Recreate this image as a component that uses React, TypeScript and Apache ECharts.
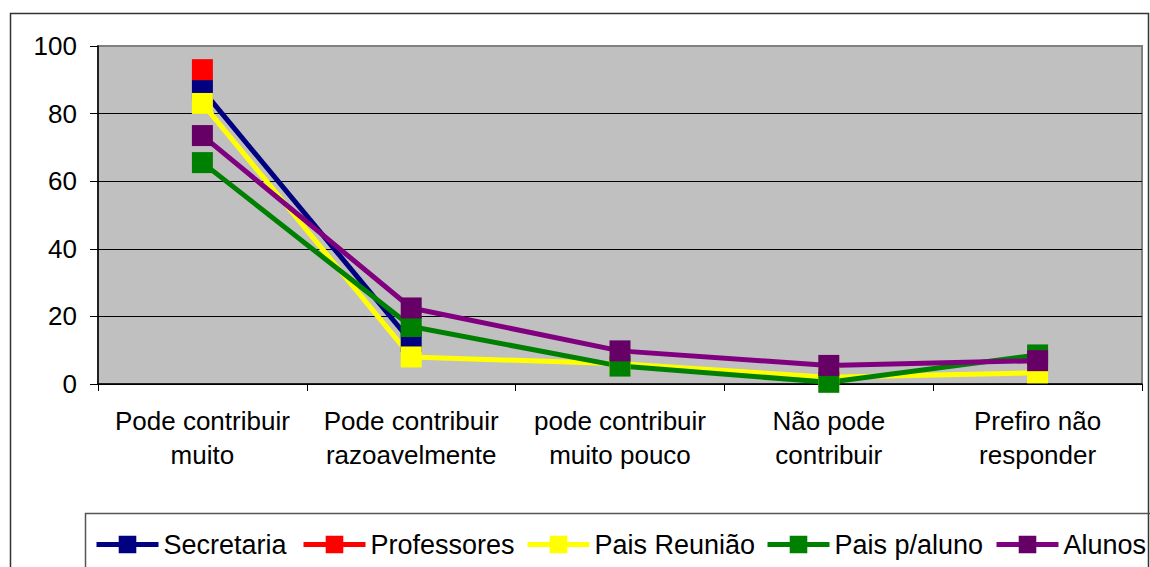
import React, { useEffect, useRef } from "react";
import * as echarts from "echarts";

const categories = [
  "Pode contribuir\nmuito",
  "Pode contribuir\nrazoavelmente",
  "pode contribuir\nmuito pouco",
  "Não pode\ncontribuir",
  "Prefiro não\nresponder",
];

const secretaria = [87, 12.5, null, null, null];
const professores = [93, null, null, null, null];
const paisReuniao = [83, 8, 6, 2, 3.3];
const paisPorAluno = [65.5, 17, 5.3, 0.5, 8.6];
const alunos = [73.5, 22.5, 9.8, 5.5, 6.9];

const seriesDefs = [
  { name: "Secretaria", data: secretaria, line: "#000080", marker: "#000080" },
  { name: "Professores", data: professores, line: "#FF0000", marker: "#FF0000" },
  { name: "Pais Reunião", data: paisReuniao, line: "#FFFF00", marker: "#FFFF00" },
  { name: "Pais p/aluno", data: paisPorAluno, line: "#008000", marker: "#008000" },
  { name: "Alunos", data: alunos, line: "#800080", marker: "#660066" },
];

const legendLefts = [94, 301, 525, 765, 994];

export default function App() {
  const ref = useRef<HTMLDivElement>(null);

  useEffect(() => {
    if (!ref.current) return;
    const chart = echarts.init(ref.current, undefined, { renderer: "svg" });
    const font = "'Liberation Sans', Arial, sans-serif";
    chart.setOption({
      animation: false,
      backgroundColor: "#ffffff",
      textStyle: { fontFamily: font },
      graphic: [
        {
          type: "rect",
          shape: { x: 10.5, y: 13.5, width: 1138, height: 600 },
          style: { fill: "none", stroke: "#333333", lineWidth: 1.5 },
          z: -10,
          silent: true,
        },
        {
          type: "rect",
          shape: { x: 85.5, y: 513.5, width: 1100, height: 100 },
          style: { fill: "none", stroke: "#555555", lineWidth: 1.5 },
          z: -10,
          silent: true,
        },
      ],
      grid: {
        left: 98,
        top: 46,
        right: 8,
        bottom: 183,
        show: true,
        backgroundColor: "#C0C0C0",
        borderColor: "#808080",
        borderWidth: 2,
      },
      legend: seriesDefs.map((s, i) => ({
        left: legendLefts[i],
        top: 531,
        padding: 0,
        itemWidth: 62,
        itemHeight: 22,
        lineStyle: { width: 5 },
        textStyle: { fontSize: 27, color: "#000", fontFamily: font },
        selectedMode: false,
        data: [s.name],
      })),
      xAxis: {
        type: "category",
        data: categories,
        boundaryGap: true,
        axisLine: { lineStyle: { color: "#000", width: 1.5 } },
        axisTick: { show: true, length: 7, interval: 0, lineStyle: { color: "#000" } },
        axisLabel: {
          interval: 0,
          fontSize: 26,
          lineHeight: 34,
          color: "#000",
          margin: 20,
          fontFamily: font,
        },
        splitLine: { show: false },
      },
      yAxis: {
        type: "value",
        min: 0,
        max: 100,
        interval: 20,
        axisLine: { show: true, lineStyle: { color: "#000", width: 1.5 } },
        axisTick: { show: true, length: 8, lineStyle: { color: "#000" } },
        axisLabel: { fontSize: 26, color: "#000", margin: 21, fontFamily: font },
        splitLine: { show: true, showMaxLine: false, lineStyle: { color: "#000", width: 1 } },
      },
      series: seriesDefs.map((s) => ({
        name: s.name,
        type: "line",
        data: s.data,
        symbol: "rect",
        symbolSize: 21,
        connectNulls: false,
        lineStyle: { color: s.line, width: 5 },
        itemStyle: { color: s.marker },
        emphasis: { disabled: true },
      })),
    });
    return () => chart.dispose();
  }, []);

  return (
    <div
      ref={ref}
      style={{ position: "fixed", left: 0, top: 0, width: 1150, height: 567 }}
    />
  );
}
